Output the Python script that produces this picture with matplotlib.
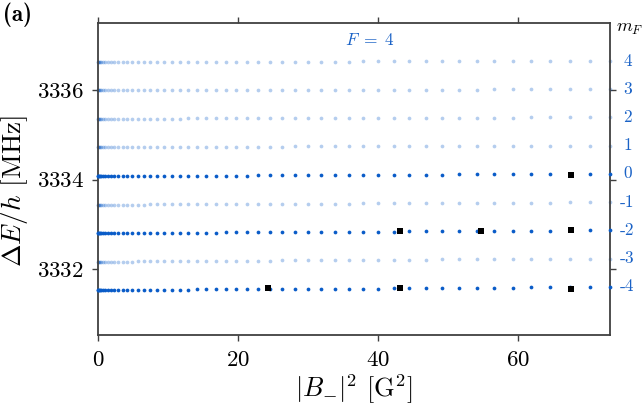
import matplotlib
matplotlib.use("Agg")
import matplotlib.pyplot as plt

plt.rcParams['font.family'] = 'serif'
plt.rcParams['font.serif'] = ['cmr10']
plt.rcParams['mathtext.fontset'] = 'cm'
plt.rcParams['axes.formatter.use_mathtext'] = True

# |B_-|^2 sample grid [G^2]
x_vals = [0.00, 0.03, 0.12, 0.26, 0.47, 0.73, 1.05, 1.43, 1.87, 2.37,
          2.92, 3.54, 4.21, 4.94, 5.73, 6.58, 7.49, 8.45, 9.47, 10.56,
          11.70, 12.90, 14.15, 15.47, 16.84, 18.28, 19.77, 21.32, 22.93, 24.59,
          26.32, 28.10, 29.95, 31.85, 33.81, 35.82, 37.90, 40.04, 42.23, 44.48,
          46.79, 49.16, 51.59, 54.07, 56.62, 59.22, 61.88, 64.60, 67.38, 70.22,
          73.11]

# energies [MHz] for each m_F level
E_p4 = [3336.64, 3336.64, 3336.64, 3336.64, 3336.64, 3336.64, 3336.64, 3336.64, 3336.64, 3336.64,
        3336.64, 3336.64, 3336.64, 3336.64, 3336.64, 3336.64, 3336.64, 3336.64, 3336.64, 3336.64,
        3336.64, 3336.64, 3336.64, 3336.64, 3336.64, 3336.64, 3336.64, 3336.64, 3336.64, 3336.64,
        3336.64, 3336.64, 3336.64, 3336.64, 3336.64, 3336.64, 3336.65, 3336.65, 3336.65, 3336.65,
        3336.65, 3336.65, 3336.65, 3336.65, 3336.65, 3336.65, 3336.65, 3336.65, 3336.65, 3336.65,
        3336.65]
E_p3 = [3336.00, 3336.00, 3336.00, 3336.00, 3336.00, 3336.00, 3336.00, 3336.00, 3336.00, 3336.00,
        3336.00, 3336.00, 3336.00, 3336.00, 3336.00, 3336.00, 3336.00, 3336.00, 3336.00, 3336.00,
        3336.00, 3336.00, 3336.00, 3336.00, 3336.00, 3336.01, 3336.01, 3336.01, 3336.01, 3336.01,
        3336.01, 3336.01, 3336.01, 3336.01, 3336.01, 3336.01, 3336.01, 3336.01, 3336.01, 3336.01,
        3336.01, 3336.01, 3336.01, 3336.01, 3336.02, 3336.02, 3336.02, 3336.02, 3336.02, 3336.02,
        3336.02]
E_p2 = [3335.36, 3335.36, 3335.36, 3335.36, 3335.36, 3335.36, 3335.36, 3335.36, 3335.36, 3335.36,
        3335.36, 3335.36, 3335.36, 3335.36, 3335.36, 3335.36, 3335.36, 3335.36, 3335.36, 3335.36,
        3335.36, 3335.37, 3335.37, 3335.37, 3335.37, 3335.37, 3335.37, 3335.37, 3335.37, 3335.37,
        3335.37, 3335.37, 3335.37, 3335.37, 3335.37, 3335.37, 3335.38, 3335.38, 3335.38, 3335.38,
        3335.38, 3335.38, 3335.38, 3335.38, 3335.38, 3335.38, 3335.39, 3335.39, 3335.39, 3335.39,
        3335.39]
E_p1 = [3334.72, 3334.72, 3334.72, 3334.72, 3334.72, 3334.72, 3334.72, 3334.72, 3334.72, 3334.72,
        3334.72, 3334.72, 3334.72, 3334.72, 3334.72, 3334.72, 3334.72, 3334.72, 3334.73, 3334.73,
        3334.73, 3334.73, 3334.73, 3334.73, 3334.73, 3334.73, 3334.73, 3334.73, 3334.73, 3334.73,
        3334.73, 3334.74, 3334.74, 3334.74, 3334.74, 3334.74, 3334.74, 3334.74, 3334.74, 3334.74,
        3334.75, 3334.75, 3334.75, 3334.75, 3334.75, 3334.75, 3334.75, 3334.76, 3334.76, 3334.76,
        3334.76]
E_0 = [3334.08, 3334.08, 3334.08, 3334.08, 3334.08, 3334.08, 3334.08, 3334.08, 3334.08, 3334.08,
       3334.08, 3334.08, 3334.08, 3334.08, 3334.08, 3334.08, 3334.09, 3334.09, 3334.09, 3334.09,
       3334.09, 3334.09, 3334.09, 3334.09, 3334.09, 3334.09, 3334.09, 3334.09, 3334.10, 3334.10,
       3334.10, 3334.10, 3334.10, 3334.10, 3334.10, 3334.10, 3334.11, 3334.11, 3334.11, 3334.11,
       3334.11, 3334.11, 3334.12, 3334.12, 3334.12, 3334.12, 3334.12, 3334.12, 3334.13, 3334.13,
       3334.13]
E_m1 = [3333.44, 3333.44, 3333.44, 3333.44, 3333.44, 3333.44, 3333.44, 3333.44, 3333.44, 3333.44,
        3333.44, 3333.44, 3333.44, 3333.44, 3333.44, 3333.44, 3333.45, 3333.45, 3333.45, 3333.45,
        3333.45, 3333.45, 3333.45, 3333.45, 3333.45, 3333.45, 3333.45, 3333.45, 3333.46, 3333.46,
        3333.46, 3333.46, 3333.46, 3333.46, 3333.46, 3333.46, 3333.47, 3333.47, 3333.47, 3333.47,
        3333.47, 3333.47, 3333.48, 3333.48, 3333.48, 3333.48, 3333.48, 3333.48, 3333.49, 3333.49,
        3333.49]
E_m2 = [3332.80, 3332.80, 3332.80, 3332.80, 3332.80, 3332.80, 3332.80, 3332.80, 3332.80, 3332.80,
        3332.80, 3332.80, 3332.80, 3332.80, 3332.80, 3332.81, 3332.81, 3332.81, 3332.81, 3332.81,
        3332.81, 3332.81, 3332.81, 3332.81, 3332.81, 3332.82, 3332.82, 3332.82, 3332.82, 3332.82,
        3332.82, 3332.82, 3332.82, 3332.83, 3332.83, 3332.83, 3332.83, 3332.83, 3332.83, 3332.84,
        3332.84, 3332.84, 3332.84, 3332.84, 3332.85, 3332.85, 3332.85, 3332.85, 3332.86, 3332.86,
        3332.86]
E_m3 = [3332.16, 3332.16, 3332.16, 3332.16, 3332.16, 3332.16, 3332.16, 3332.16, 3332.16, 3332.16,
        3332.16, 3332.16, 3332.16, 3332.16, 3332.17, 3332.17, 3332.17, 3332.17, 3332.17, 3332.17,
        3332.17, 3332.17, 3332.17, 3332.17, 3332.18, 3332.18, 3332.18, 3332.18, 3332.18, 3332.18,
        3332.19, 3332.19, 3332.19, 3332.19, 3332.19, 3332.19, 3332.20, 3332.20, 3332.20, 3332.20,
        3332.20, 3332.21, 3332.21, 3332.21, 3332.21, 3332.22, 3332.22, 3332.22, 3332.22, 3332.23,
        3332.23]
E_m4 = [3331.52, 3331.52, 3331.52, 3331.52, 3331.52, 3331.52, 3331.52, 3331.52, 3331.52, 3331.52,
        3331.52, 3331.52, 3331.52, 3331.53, 3331.53, 3331.53, 3331.53, 3331.53, 3331.53, 3331.53,
        3331.53, 3331.53, 3331.54, 3331.54, 3331.54, 3331.54, 3331.54, 3331.54, 3331.55, 3331.55,
        3331.55, 3331.55, 3331.55, 3331.55, 3331.56, 3331.56, 3331.56, 3331.56, 3331.57, 3331.57,
        3331.57, 3331.57, 3331.58, 3331.58, 3331.58, 3331.58, 3331.59, 3331.59, 3331.59, 3331.60,
        3331.60]

levels = [E_p4, E_p3, E_p2, E_p1, E_0, E_m1, E_m2, E_m3, E_m4]
mF_labels = ['4', '3', '2', '1', '0', '-1', '-2', '-3', '-4']
highlight = [False, False, False, False, True, False, True, False, True]

# measured points (black squares)
meas_x = [67.5, 43.2, 54.7, 67.5, 24.3, 43.2, 67.5]
meas_y = [3334.11, 3332.85, 3332.85, 3332.86, 3331.58, 3331.58, 3331.55]

blue = '#0a5cc8'
label_blue = '#1a62c6'
spine_c = '#404040'

fig = plt.figure(figsize=(6.44, 4.07), dpi=100)
ax = fig.add_axes([0.152, 0.177, 0.795, 0.766])

for E, hl in zip(levels, highlight):
    if hl:
        ax.plot(x_vals, E, 'o', color=blue, ms=2.7, mew=0, clip_on=False, zorder=3)
    else:
        ax.plot(x_vals, E, 'o', color=blue, alpha=0.3, ms=2.7, mew=0, clip_on=False, zorder=2)

ax.plot(meas_x, meas_y, 's', color='black', ms=4.6, mew=0, zorder=4)

for E, lab in zip(levels, mF_labels):
    ax.text(75.6, E[-1], lab, color=label_blue, fontsize=12.5, ha='center', va='center',
            clip_on=False)

ax.text(75.9, 3337.36, r'$m_F$', color='black', fontsize=13, ha='center', va='center',
        clip_on=False)
ax.text(38.8, 3337.13, r'$F\;=\;4$', color=label_blue, fontsize=12.5, ha='center', va='center')

fig.text(0.004, 0.995, '(a)', family='cmb10', fontsize=16.5, ha='left', va='top')

ax.set_xlim(0, 73.1)
ax.set_ylim(3330.52, 3337.5)
ax.set_xticks([0, 20, 40, 60])
ax.set_yticks([3332, 3334, 3336])

for s in ax.spines.values():
    s.set_color(spine_c)
    s.set_linewidth(1.3)
ax.tick_params(direction='out', top=True, right=True, length=4, width=1.0,
               color=spine_c, labelsize=16.5, pad=6)
ax.tick_params(axis='x', pad=7)

ax.set_xlabel(r'$|B_{-}|^2$ [G$^2$]', fontsize=19, labelpad=2)
ax.set_ylabel(r'$\Delta E/h$ [MHz]', fontsize=19.5)
ax.yaxis.set_label_coords(-0.132, 0.46)

fig.savefig('out.png', dpi=100)
